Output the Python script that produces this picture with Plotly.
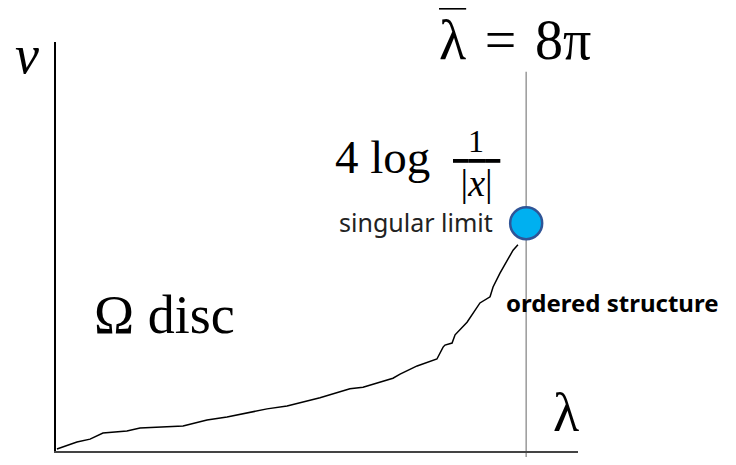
import plotly.graph_objects as go

# curve: lambda vs v (hand-drawn shape)
lam = [0.05, 1.12, 1.82, 2.51, 3.79, 4.49, 6.79, 8.07, 9.14, 10.53, 11.28, 12.35,
       14.11, 15.71, 16.41, 18.01, 18.39, 19.30, 20.36, 20.69, 20.79, 21.17, 21.33,
       21.97, 22.66, 23.20, 23.36, 23.73, 24.11, 24.43, 24.69]
v = [0.05, 0.22, 0.29, 0.44, 0.49, 0.56, 0.61, 0.76, 0.83, 0.95, 1.03, 1.10,
     1.30, 1.52, 1.56, 1.78, 1.88, 2.08, 2.25, 2.54, 2.59, 2.64, 2.84,
     3.15, 3.62, 3.77, 4.01, 4.35, 4.67, 4.91, 5.04]

lam_crit = 25.13  # 8*pi
v_sing = 5.57

SERIF = "Liberation Serif"
SANS = "Noto Sans"

fig = go.Figure()
fig.add_trace(go.Scatter(x=lam, y=v, mode="lines",
                         line=dict(color="black", width=1.5), hoverinfo="skip"))
fig.add_trace(go.Scatter(x=[lam_crit], y=[v_sing], mode="markers",
                         marker=dict(size=32, color="#00B0F0",
                                     line=dict(color="#2F5597", width=2.5)),
                         cliponaxis=False, hoverinfo="skip"))

fig.add_shape(type="line", xref="x", yref="paper", x0=lam_crit, x1=lam_crit,
              y0=-0.04, y1=0.927, line=dict(color="#999999", width=1.5), layer="below")

ann = [
    dict(x=22.45, y=7.58, text="1", font=dict(family=SERIF, size=32), xanchor="center"),
    dict(x=22.45, y=6.55, text='<span style="text-decoration:overline">\u2009|<i>x</i>|\u2009</span>',
         font=dict(family=SERIF, size=38), xanchor="center"),
    dict(x=14.8, y=7.2, text="4 log", font=dict(family=SERIF, size=47), xanchor="left"),
    dict(x=23.46, y=5.6, text="singular limit", font=dict(family=SANS, size=25, color="#222"),
         xanchor="right"),
    dict(x=23.95, y=3.64, text="<b>ordered structure</b>", font=dict(family=SANS, size=24),
         xanchor="left"),
    dict(x=1.92, y=3.33, text="Ω disc", font=dict(family=SERIF, size=54), xanchor="left"),
    dict(x=27.26, y=0.93, text="λ", font=dict(family=SERIF, size=54), xanchor="center"),
]
for a in ann:
    a["font"].setdefault("color", "black")
    fig.add_annotation(xref="x", yref="y", showarrow=False, yanchor="middle", **a)

# labels outside the plotting area
fig.add_annotation(xref="paper", yref="paper", x=-0.0556, y=0.968, text="<i>v</i>",
                   font=dict(family=SERIF, size=54, color="black"),
                   xanchor="center", yanchor="middle", showarrow=False)
fig.add_annotation(xref="paper", yref="paper", x=0.730, y=1.005,
                   text='<span style="text-decoration:overline">λ</span>\u200a = \u200a8π',
                   font=dict(family=SERIF, size=56, color="black"),
                   xanchor="left", yanchor="middle", showarrow=False)

fig.update_layout(
    width=720, height=449,
    margin=dict(l=48, r=150, t=34, b=6),
    paper_bgcolor="white", plot_bgcolor="white",
    showlegend=False,
    xaxis=dict(range=[0, 27.9], showline=True, linecolor="#444", linewidth=2,
               showgrid=False, zeroline=False, showticklabels=False, ticks=""),
    yaxis=dict(range=[0, 10], showline=True, linecolor="black", linewidth=1.5,
               showgrid=False, zeroline=False, showticklabels=False, ticks=""),
)
fig.write_html("out.html")
